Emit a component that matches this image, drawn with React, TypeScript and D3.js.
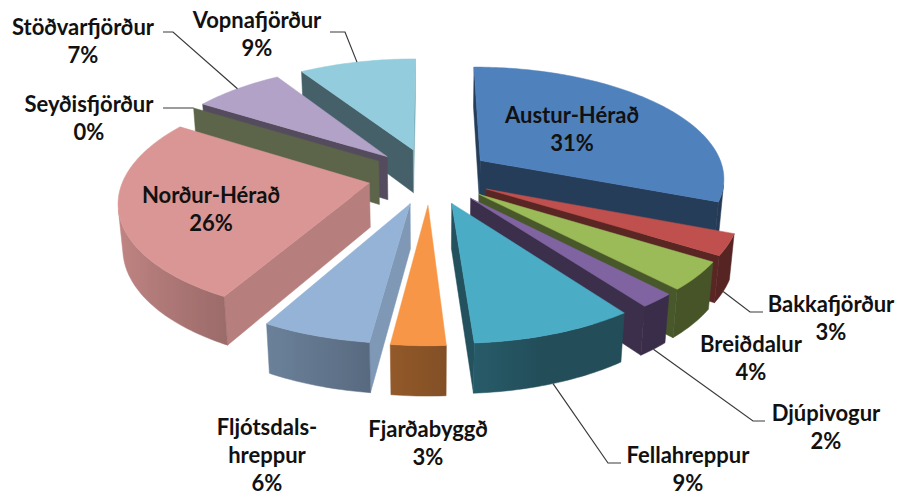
import React from 'react';
import * as d3 from 'd3';

// data (share of total, %)
const categories = [
  'Austur-Hérað', 'Bakkafjörður', 'Breiðdalur', 'Djúpivogur', 'Fellahreppur', 'Fjarðabyggð',
  'Fljótsdalshreppur', 'Norður-Hérað', 'Seyðisfjörður', 'Stöðvarfjörður', 'Vopnafjörður',
];
const values = [31, 3, 4, 2, 9, 3, 6, 26, 0, 7, 9];
const colors = [
  '#4F81BD', '#C0504D', '#9BBB59', '#8064A2', '#4BACC6', '#F79646',
  '#95B3D7', '#D99694', '#C3D69B', '#B3A2C7', '#93CDDD',
];
// how each category name is broken into lines on the chart
const nameLines = [
  ['Austur-Hérað'], ['Bakkafjörður'], ['Breiðdalur'], ['Djúpivogur'], ['Fellahreppur'], ['Fjarðabyggð'],
  ['Fljótsdals-', 'hreppur'], ['Norður-Hérað'], ['Seyðisfjörður'], ['Stöðvarfjörður'], ['Vopnafjörður'],
];

// label layout: text centre / first baseline, optional leader (knee, end)
const labelLayout: { x: number; y: number; leader?: [number, number][] }[] = [
  { x: 572, y: 123 },
  { x: 831, y: 312, leader: [[750, 312], [763, 312]] },
  { x: 751, y: 352 },
  { x: 826, y: 421, leader: [[753, 421], [765, 421]] },
  { x: 688, y: 463, leader: [[608, 463], [621, 463]] },
  { x: 428, y: 437 },
  { x: 267, y: 435 },
  { x: 211, y: 203 },
  { x: 89, y: 112, leader: [[190, 108], [163, 108]] },
  { x: 83, y: 35, leader: [[173, 32], [163, 32]] },
  { x: 257, y: 28, leader: [[345, 32], [330, 32]] },
];

const W = 898;
const H = 497;
const cx = 430;
const cy = 176;
const R = 245;
const EXPLODE = 62;
const DEPTH = 50;
const sinT = 0.4532;
const cosT = Math.sqrt(1 - sinT * sinT);
const CAM = 1518;
const LINE_H = 28;

const cam = (X: number, Z: number, h: number) => [X, Z * sinT - h * cosT, Z * cosT + h * sinT];

function project(X: number, Z: number, h: number): [number, number] {
  const [x, y, d] = cam(X, Z, h);
  const s = CAM / (CAM - d);
  return [cx + s * x, cy + s * y];
}

function facing(X: number, Z: number, h: number, nAng: number) {
  const p = cam(X, Z, h);
  const nx = Math.sin(nAng);
  const nz = -Math.cos(nAng);
  const n = [nx, nz * sinT, nz * cosT];
  const v = [-p[0], -p[1], CAM - p[2]];
  return n[0] * v[0] + n[1] * v[1] + n[2] * v[2] > 0;
}

function shade(hex: string, k: number) {
  const c = d3.rgb(hex);
  return d3.rgb(c.r * k, c.g * k, c.b * k).formatHex();
}

const deg = (a: number) => ((a * 180) / Math.PI + 360) % 360;
const sideK = (n: number) => 0.47 + 0.38 * Math.max(0, Math.cos(((deg(n) - 105) * Math.PI) / 180));
const wallK = (a: number) => Math.max(0.45, Math.min(0.9, 0.55 - 0.35 * Math.sin(a)));

const poly = d3.line();

type Face = { d: string; fill: string; grad?: { x1: number; x2: number; stops: [number, string][] } };

export default function App() {
  const arcs = d3.pie<number>().sort(null).value((d) => d)(values);

  const slices = arcs.map((a, i) => {
    const a0 = a.startAngle;
    const a1 = a.endAngle;
    const mid = (a0 + a1) / 2;
    const ox = EXPLODE * Math.sin(mid);
    const oz = -EXPLODE * Math.cos(mid);
    const rim = (t: number): [number, number] => [ox + R * Math.sin(t), oz - R * Math.cos(t)];
    const col = colors[i];
    const faces: Face[] = [];

    const side = (t: number, nAng: number) => {
      const [rx, rz] = rim(t);
      if (!facing((ox + rx) / 2, (oz + rz) / 2, -DEPTH / 2, nAng)) return;
      const pts = [project(ox, oz, 0), project(rx, rz, 0), project(rx, rz, -DEPTH), project(ox, oz, -DEPTH)];
      faces.push({ d: poly(pts) + 'Z', fill: shade(col, sideK(nAng)) });
    };
    side(a0, a0 - Math.PI / 2);
    side(a1, a1 + Math.PI / 2);

    const n = Math.max(1, Math.ceil((a1 - a0) / ((1 * Math.PI) / 180)));
    const step = (a1 - a0) / n;
    if (a1 > a0) {
      // visible part of the curved outer wall, drawn as one band with a gradient
      const vis: number[] = [];
      for (let k = 0; k <= n; k++) {
        const t = a0 + k * step;
        const [mx, mz] = rim(t);
        if (facing(mx, mz, -DEPTH / 2, t)) vis.push(t);
      }
      if (vis.length > 1) {
        const topPts = vis.map((t) => project(...rim(t), 0));
        const botPts = vis.map((t) => project(...rim(t), -DEPTH)).reverse();
        const xs = topPts.map((p) => p[0]);
        const x1 = xs[0];
        const x2 = xs[xs.length - 1];
        const span = x2 - x1 || 1;
        const stops: [number, string][] = vis.map((t, k) => [(xs[k] - x1) / span, shade(col, wallK(t))]);
        faces.push({ d: poly([...topPts, ...botPts]) + 'Z', fill: shade(col, wallK(mid)), grad: { x1, x2, stops } });
      }
      const top: [number, number][] = [project(ox, oz, 0)];
      for (let k = 0; k <= n; k++) top.push(project(...rim(a0 + k * step), 0));
      faces.push({ d: poly(top) + 'Z', fill: col });
    }

    const depth = oz - 0.5 * R * Math.cos(mid);
    const front = Math.cos(mid) < 0;
    const anchor = project(...rim(mid), front ? -DEPTH : 0);
    return { i, faces, depth, anchor };
  });

  const order = [...slices].sort((p, q) => p.depth - q.depth);

  return (
    <svg
      width={W}
      height={H}
      style={{ position: 'absolute', left: 0, top: 0, background: '#fff' }}
      fontFamily="Lato, 'Open Sans', sans-serif"
    >
      <defs>
        {slices.map((s) =>
          s.faces.map((f, k) =>
            f.grad ? (
              <linearGradient
                key={`g${s.i}-${k}`}
                id={`wall${s.i}-${k}`}
                gradientUnits="userSpaceOnUse"
                x1={f.grad.x1}
                x2={f.grad.x2}
                y1={0}
                y2={0}
              >
                {f.grad.stops.map(([o, c], j) => (
                  <stop key={j} offset={Math.max(0, Math.min(1, o))} stopColor={c} />
                ))}
              </linearGradient>
            ) : null,
          ),
        )}
      </defs>
      {order.map((s) => (
        <g key={categories[s.i]}>
          {s.faces.map((f, k) => {
            const fill = f.grad ? `url(#wall${s.i}-${k})` : f.fill;
            return <path key={k} d={f.d} fill={fill} stroke={fill} strokeWidth={0.5} strokeLinejoin="round" />;
          })}
        </g>
      ))}
      {slices.map((s) => {
        const lay = labelLayout[s.i];
        if (!lay.leader) return null;
        const pts = [s.anchor, ...lay.leader] as [number, number][];
        return <path key={'l' + s.i} d={poly(pts) ?? ''} fill="none" stroke="#3a3a3a" strokeWidth={1.2} />;
      })}
      {slices.map((s) => {
        const lay = labelLayout[s.i];
        const lines = [...nameLines[s.i], `${values[s.i]}%`];
        return (
          <text key={'t' + s.i} x={lay.x} y={lay.y} textAnchor="middle" fontSize={22} fontWeight={700} fill="#111">
            {lines.map((ln, k) => (
              <tspan key={k} x={lay.x} dy={k === 0 ? 0 : LINE_H}>
                {ln}
              </tspan>
            ))}
          </text>
        );
      })}
    </svg>
  );
}
